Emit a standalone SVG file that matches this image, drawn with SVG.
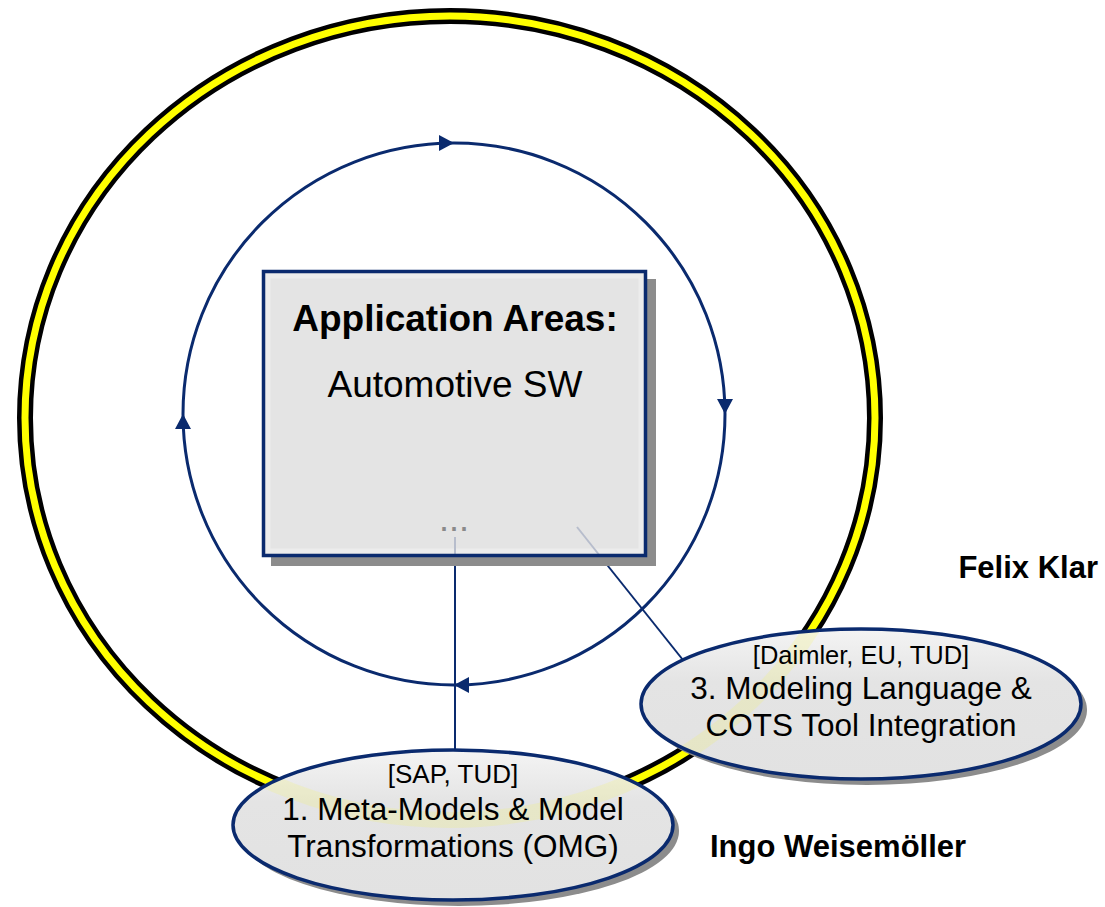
<svg xmlns="http://www.w3.org/2000/svg" width="1105" height="907" viewBox="0 0 1105 907">
  <style>
    .navy { stroke: #0a2a6e; fill: none; }
    .t { font-family: "Liberation Sans", Arial, sans-serif; fill: #000; text-anchor: middle; }
    .b { font-weight: bold; }
    .name { font-family: "Liberation Sans", Arial, sans-serif; font-weight: bold; font-size: 31px; fill: #000; }
  </style>
  <defs>
    <marker id="arrow" markerUnits="userSpaceOnUse" markerWidth="16" markerHeight="16" viewBox="0 0 16 16" refX="15" refY="8" orient="auto">
      <path d="M0,0 L15,8 L0,16 Z" fill="#0a2a6e"/>
    </marker>
    <linearGradient id="ellFill" x1="0" y1="0" x2="0" y2="1">
      <stop offset="0" stop-color="#f4f4f4"/>
      <stop offset="0.35" stop-color="#e4e4e4"/>
      <stop offset="1" stop-color="#e2e2e2"/>
    </linearGradient>
    <clipPath id="clipE3"><ellipse cx="861" cy="704" rx="220" ry="75"/></clipPath>
    <clipPath id="clipE1"><ellipse cx="453" cy="825" rx="220" ry="75"/></clipPath>
  </defs>

  <!-- outer ring -->
  <g id="ring">
    <ellipse cx="450" cy="418" rx="425" ry="402" fill="none" stroke="#000" stroke-width="16"/>
    <ellipse cx="450" cy="418" rx="425" ry="402" fill="none" stroke="#ffff00" stroke-width="7"/>
  </g>

  <!-- clockwise cycle -->
  <g id="cycle" class="navy" stroke-width="3">
    <path d="M183,414 A271,271 0 0 1 454,143" marker-end="url(#arrow)"/>
    <path d="M454,143 A271,271 0 0 1 725,414" marker-end="url(#arrow)"/>
    <path d="M725,414 A271,271 0 0 1 454,685" marker-end="url(#arrow)"/>
    <path d="M454,685 A271,271 0 0 1 183,414" marker-end="url(#arrow)"/>
  </g>

  <!-- connectors -->
  <g id="connectors" class="navy" stroke-width="2">
    <line x1="455" y1="556" x2="455" y2="751"/>
    <line x1="600" y1="556" x2="683" y2="660"/>
  </g>

  <!-- central box -->
  <g id="application-areas">
    <rect x="271" y="279" width="385" height="287" fill="#8c8c8c"/>
    <rect x="263.5" y="271.5" width="382" height="284" fill="#e4e4e4"/>
    <rect x="268" y="276" width="373" height="275" fill="none" stroke="#ececec" stroke-width="5"/>
    <line x1="455" y1="537" x2="455" y2="556" stroke="#b7bdcc" stroke-width="2"/>
    <line x1="577" y1="527" x2="600" y2="556" stroke="#b7bdcc" stroke-width="2"/>
    <text class="t b" x="455" y="331" font-size="37">Application Areas:</text>
    <text class="t" x="455" y="397" font-size="37">Automotive SW</text>
    <text class="t" x="454" y="531" font-size="36" style="fill:#8a8a8a">...</text>
    <rect x="263.5" y="271.5" width="382" height="284" fill="none" stroke="#0a2a6e" stroke-width="3.5"/>
  </g>

  <!-- topic 3 -->
  <g id="topic-3">
    <ellipse cx="867" cy="710" rx="220" ry="75" fill="#8c8c8c"/>
    <ellipse cx="861" cy="704" rx="220" ry="75" fill="url(#ellFill)"/>
    <g clip-path="url(#clipE3)" opacity="0.12">
      <ellipse cx="450" cy="418" rx="425" ry="402" fill="none" stroke="#ffff00" stroke-width="16"/>
    </g>
    <text class="t" x="861" y="664" font-size="25.5">[Daimler, EU, TUD]</text>
    <text class="t" x="861" y="699" font-size="31.5">3. Modeling Language &amp;</text>
    <text class="t" x="861" y="736" font-size="31.5">COTS Tool Integration</text>
    <ellipse cx="861" cy="704" rx="220" ry="75" fill="none" stroke="#0a2a6e" stroke-width="3.5"/>
  </g>

  <!-- topic 1 -->
  <g id="topic-1">
    <ellipse cx="459" cy="831" rx="220" ry="75" fill="#8c8c8c"/>
    <ellipse cx="453" cy="825" rx="220" ry="75" fill="url(#ellFill)"/>
    <g clip-path="url(#clipE1)" opacity="0.12">
      <ellipse cx="450" cy="418" rx="425" ry="402" fill="none" stroke="#ffff00" stroke-width="16"/>
    </g>
    <text class="t" x="453" y="783" font-size="26">[SAP, TUD]</text>
    <text class="t" x="453" y="820" font-size="31.5">1. Meta-Models &amp; Model</text>
    <text class="t" x="453" y="857" font-size="31.5">Transformations (OMG)</text>
    <ellipse cx="453" cy="825" rx="220" ry="75" fill="none" stroke="#0a2a6e" stroke-width="3.5"/>
  </g>

  <!-- people -->
  <g id="felix-klar">
    <text class="name" x="1098" y="578" text-anchor="end">Felix Klar</text>
  </g>
  <g id="ingo-weisemoeller">
    <text class="name" x="710" y="857">Ingo Weisemöller</text>
  </g>
</svg>
